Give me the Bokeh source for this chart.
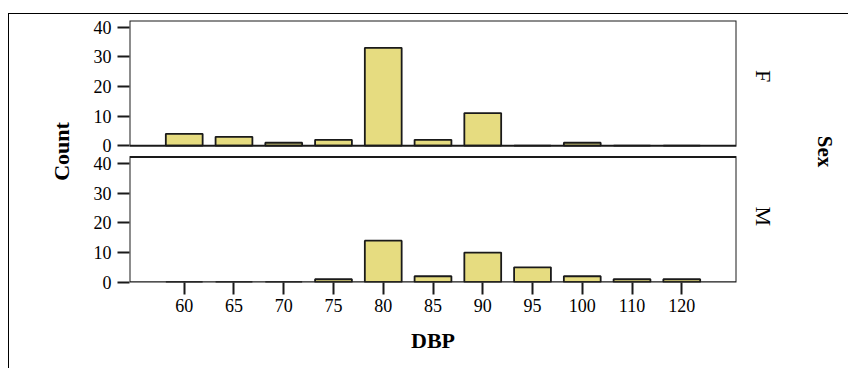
import math
from bokeh.plotting import figure
from bokeh.models import (Range1d, FactorRange, LinearAxis, FixedTicker, BoxAnnotation,
                          ColumnDataSource)
from bokeh.embed import file_html
from bokeh.resources import INLINE

# ---- data ----
dbp_labels = ["60", "65", "70", "75", "80", "85", "90", "95", "100", "110", "120"]
count_f = [4, 3, 1, 2, 33, 2, 11, 0, 1, 0, 0]
count_m = [0, 0, 0, 1, 14, 2, 10, 5, 2, 1, 1]
panel_labels = ["F", "M"]
count_ticks = [0, 10, 20, 30, 40]

# ---- layout constants ----
PANEL_TOP = 42.2      # top of each panel in count units
F_OFFSET = 46         # where the F panel's zero sits on the shared axis
FONT = "Liberation Serif"
BAR_FILL = "#E6DC80"
LINE = "#1a1a1a"
W, H = 848, 368

p = figure(width=W, height=H,
           x_range=FactorRange(factors=dbp_labels, range_padding=0.6, range_padding_units="absolute"),
           y_range=Range1d(-0.1, F_OFFSET + PANEL_TOP),
           output_backend="svg", toolbar_location=None,
           min_border_left=129, min_border_right=112, min_border_top=20, min_border_bottom=86)
p.extra_y_ranges = {"f": Range1d(-0.1 - F_OFFSET, PANEL_TOP)}
p.grid.visible = False
p.outline_line_color = None
p.background_fill_color = "white"
p.border_fill_color = None
# outer box edges (left and top) drawn as the element's CSS background
p.styles = {"background": "linear-gradient(#000,#000) 8px 13px / 1px 1000px no-repeat, "
                          "linear-gradient(#000,#000) 8px 13px / 1000px 1px no-repeat, #fff"}

# panel frames
for lo in (0, F_OFFSET):
    p.add_layout(BoxAnnotation(bottom=lo, top=lo + PANEL_TOP, fill_color=None, fill_alpha=0,
                               line_color=LINE, line_alpha=1, line_width=2))

src_f = ColumnDataSource(dict(x=dbp_labels, top=count_f))
src_m = ColumnDataSource(dict(x=dbp_labels, top=count_m))
p.vbar(x="x", top="top", bottom=0, width=0.74, source=src_f, y_range_name="f",
       fill_color=BAR_FILL, line_color=LINE, line_width=1.8)
p.vbar(x="x", top="top", bottom=0, width=0.74, source=src_m,
       fill_color=BAR_FILL, line_color=LINE, line_width=1.8)

# left axis: shared, two sets of ticks
yax = p.yaxis[0]
tick_pos = count_ticks + [t + F_OFFSET for t in count_ticks]
yax.ticker = FixedTicker(ticks=tick_pos)
yax.major_label_overrides = {t: str(c) for t, c in zip(tick_pos, count_ticks + count_ticks)}
yax.axis_line_color = None
yax.major_tick_out = 12
yax.major_tick_in = 0
yax.major_tick_line_width = 2
yax.major_tick_line_color = LINE
yax.minor_tick_line_color = None
yax.major_label_standoff = 6
yax.major_label_text_font = FONT
yax.major_label_text_font_size = "18px"
yax.major_label_text_color = "black"
yax.axis_label = "Count"
yax.axis_label_text_font = FONT
yax.axis_label_text_font_style = "bold"
yax.axis_label_text_font_size = "22px"
yax.axis_label_text_color = "black"
yax.axis_label_standoff = 17

# bottom axis
xax = p.xaxis[0]
xax.axis_line_color = None
xax.major_tick_out = 12
xax.major_tick_in = 0
xax.major_tick_line_width = 2
xax.major_tick_line_color = LINE
xax.major_label_standoff = 4
xax.major_label_text_font = FONT
xax.major_label_text_font_size = "18px"
xax.major_label_text_color = "black"
xax.axis_label = "DBP"
xax.axis_label_text_font = FONT
xax.axis_label_text_font_style = "bold"
xax.axis_label_text_font_size = "22px"
xax.axis_label_text_color = "black"
xax.axis_label_standoff = 13

# right axis with panel labels
mid = 25.5
rticks = [mid + F_OFFSET, mid]
rax = LinearAxis(ticker=FixedTicker(ticks=rticks),
                 major_label_overrides={t: s for t, s in zip(rticks, panel_labels)})
rax.axis_line_color = None
rax.major_tick_line_color = None
rax.minor_tick_line_color = None
rax.major_label_orientation = -math.pi / 2
rax.major_label_standoff = 21
rax.major_label_text_font = FONT
rax.major_label_text_font_size = "22px"
rax.major_label_text_color = "black"
rax.axis_label = "Sex"
rax.axis_label_text_font = FONT
rax.axis_label_text_font_style = "bold"
rax.axis_label_text_font_size = "21px"
rax.axis_label_text_color = "black"
rax.axis_label_standoff = 21
p.add_layout(rax, "right")

open("out.html", "w").write(file_html(p, INLINE))
